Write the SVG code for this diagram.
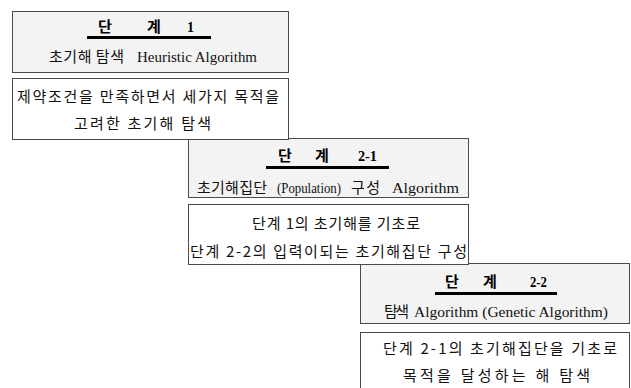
<svg xmlns="http://www.w3.org/2000/svg" width="631" height="388" viewBox="0 0 631 388">
<style>
.hd{fill:#f3f3f3;stroke:#4a4a4a;stroke-width:1}
.ds{fill:#ffffff;stroke:#4a4a4a;stroke-width:1}
.ko{font-family:"Noto Sans CJK KR","Noto Sans",sans-serif;font-size:15px;fill:#111}
.en{font-family:"Liberation Serif","DejaVu Serif",serif;font-size:14px;fill:#111}
.tk{font-family:"Noto Sans CJK KR","Noto Sans",sans-serif;font-size:15px;font-weight:bold;fill:#000}
.tn{font-family:"Liberation Serif",serif;font-size:14px;font-weight:bold;fill:#000}
.ul{stroke:#000;stroke-width:3}
</style>
<g id="stage1-header">
<rect class="hd" x="12.5" y="11.5" width="276" height="61"/>
<text class="tk" x="98" y="32">단</text>
<text class="tk" x="147" y="32">계</text>
<text class="tn" x="187" y="32">1</text>
<line class="ul" x1="87" y1="37.5" x2="211" y2="37.5"/>
<text class="ko" x="49" y="62" textLength="75" lengthAdjust="spacing">초기해 탐색</text>
<text class="en" x="137" y="62" textLength="120" lengthAdjust="spacingAndGlyphs">Heuristic Algorithm</text>
</g>
<g id="stage21-header">
<rect class="hd" x="188.5" y="138.5" width="280" height="59"/>
<text class="tk" x="278" y="161">단</text>
<text class="tk" x="315" y="161">계</text>
<text class="tn" x="358" y="161" textLength="19" lengthAdjust="spacingAndGlyphs">2-1</text>
<line class="ul" x1="266" y1="167.5" x2="389" y2="167.5"/>
<text class="ko" x="197" y="193" textLength="70" lengthAdjust="spacing">초기해집단</text>
<text class="en" x="277" y="193" textLength="64" lengthAdjust="spacingAndGlyphs">(Population)</text>
<text class="ko" x="351" y="193" textLength="29" lengthAdjust="spacing">구성</text>
<text class="en" x="392" y="193" textLength="67" lengthAdjust="spacingAndGlyphs">Algorithm</text>
</g>
<g id="stage1-desc">
<rect class="ds" x="12.5" y="78.5" width="276" height="61"/>
<text class="ko" x="17" y="102" textLength="262" lengthAdjust="spacing">제약조건을 만족하면서 세가지 목적을</text>
<text class="ko" x="74" y="129" textLength="137" lengthAdjust="spacing">고려한 초기해 탐색</text>
</g>
<g id="stage22-header">
<rect class="hd" x="360.5" y="263.5" width="269" height="60"/>
<text class="tk" x="445" y="287">단</text>
<text class="tk" x="483" y="287">계</text>
<text class="tn" x="530" y="287" textLength="17" lengthAdjust="spacingAndGlyphs">2-2</text>
<line class="ul" x1="435" y1="293.5" x2="557" y2="293.5"/>
<text class="ko" x="384" y="317" textLength="25" lengthAdjust="spacing">탐색</text>
<text class="en" x="414" y="317" textLength="194" lengthAdjust="spacingAndGlyphs">Algorithm (Genetic Algorithm)</text>
</g>
<g id="stage21-desc">
<rect class="ds" x="188.5" y="204.5" width="280" height="60"/>
<text class="ko" x="252" y="229" textLength="168" lengthAdjust="spacing">단계 1의 초기해를 기초로</text>
<text class="ko" x="190" y="257" textLength="277" lengthAdjust="spacing">단계 2-2의 입력이되는 초기해집단 구성</text>
</g>
<g id="stage22-desc">
<rect class="ds" x="360.5" y="332.5" width="269" height="62"/>
<text class="ko" x="383" y="354" textLength="234" lengthAdjust="spacing">단계 2-1의 초기해집단을 기초로</text>
<text class="ko" x="403" y="381" textLength="187" lengthAdjust="spacing">목적을 달성하는 해 탐색</text>
</g>
<g id="connectors"/>
</svg>
